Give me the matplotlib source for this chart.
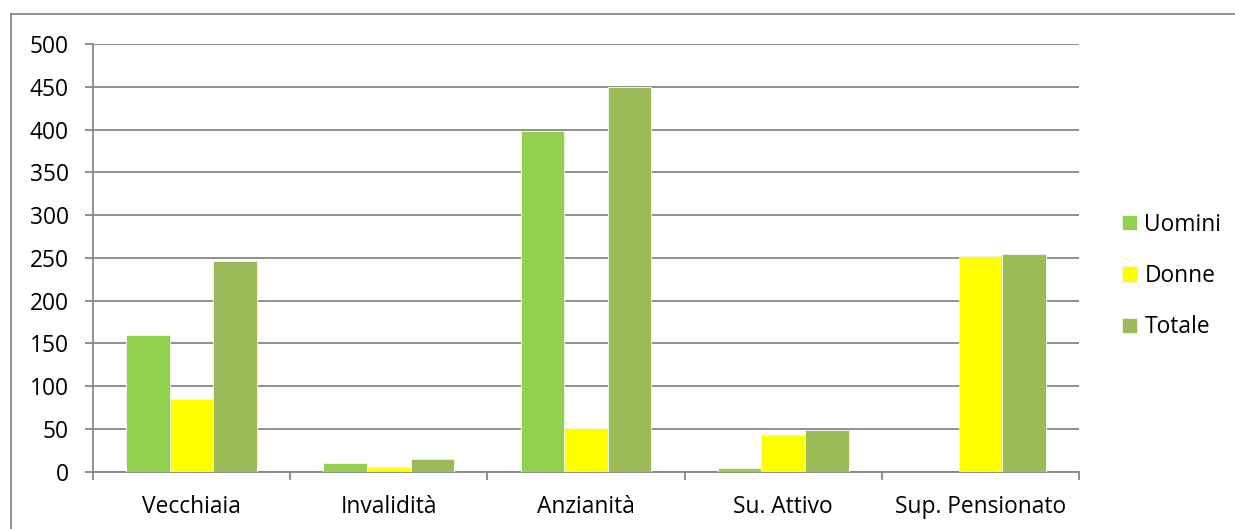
import matplotlib
matplotlib.use("Agg")
import matplotlib.pyplot as plt
from matplotlib.lines import Line2D
import numpy as np

categories = ["Vecchiaia", "Invalidità", "Anzianità", "Su. Attivo", "Sup. Pensionato"]
uomini = [160, 10, 398, 4, 0]
donne = [85, 5, 51, 43, 252]
totale = [246, 15, 450, 49, 254]
series_names = ["Uomini", "Donne", "Totale"]
series_colors = ["#92D050", "#FFFF00", "#9BBB59"]
y_ticks = list(range(0, 501, 50))

plt.rcParams["font.family"] = ["Open Sans", "DejaVu Sans"]
W, H = 1235, 529
fig = plt.figure(figsize=(W / 100, H / 100), dpi=100)
fig.patch.set_facecolor("white")

left, right, top, bottom = 93, 1079, 44, 471.7
ax = fig.add_axes([left / W, (H - bottom) / H, (right - left) / W, (bottom - top) / H])

grid_c = "#878787"
fs = 16.4
x = np.arange(len(categories))
bw = 0.2212
for i, (vals, name, col) in enumerate(zip([uomini, donne, totale], series_names, series_colors)):
    ax.bar(x + (i - 1) * bw, vals, width=bw, color=col, label=name,
           edgecolor="#eef5e4", linewidth=0.7, zorder=3)

ax.set_xlim(-0.5, len(categories) - 0.5)
ax.set_ylim(0, 500)
ax.set_yticks(y_ticks)
ax.yaxis.grid(True, color=grid_c, linewidth=1.3, zorder=0)
ax.set_axisbelow(True)

for s in ["top", "right"]:
    ax.spines[s].set_visible(False)
for s in ["left", "bottom"]:
    ax.spines[s].set_color(grid_c)
    ax.spines[s].set_linewidth(1.3)

ax.tick_params(axis="y", length=5.5, width=1.3, color=grid_c, labelsize=fs, pad=12)
ax.set_xticks(x)
ax.set_xticklabels(categories)
ax.tick_params(axis="x", which="major", length=0, labelsize=fs, pad=17)
ax.set_xticks(np.arange(-0.5, len(categories), 1.0), minor=True)
ax.tick_params(axis="x", which="minor", length=6, width=1.3, color=grid_c)

leg = ax.legend(loc="center left", bbox_to_anchor=(1111 / W, (H - 276) / H),
                bbox_transform=fig.transFigure, frameon=False, fontsize=fs,
                handlelength=0.66, handleheight=0.66, handletextpad=0.3,
                labelspacing=1.2, borderpad=0)

# outer chart border
fig.add_artist(Line2D([11 / W, 11 / W], [0, (H - 14) / H], color=grid_c, lw=1.3,
                      transform=fig.transFigure))
fig.add_artist(Line2D([11 / W, 1], [(H - 14) / H, (H - 14) / H], color=grid_c, lw=1.3,
                      transform=fig.transFigure))

fig.savefig("out.png", dpi=100, facecolor="white")
